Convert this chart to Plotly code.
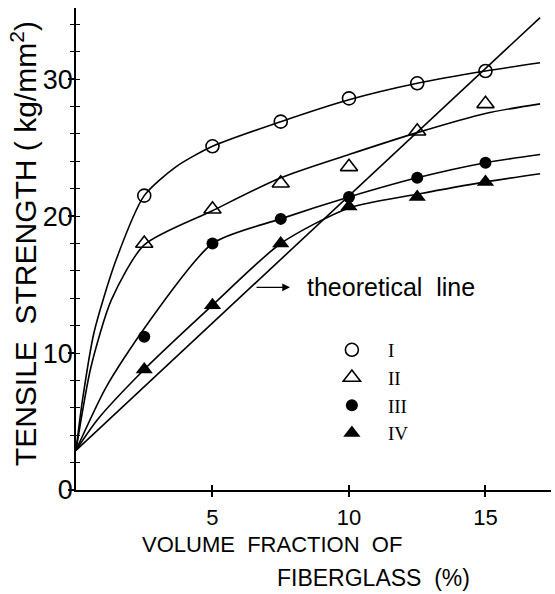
import plotly.graph_objects as go

# ---- data ----
vf = [2.5, 5, 7.5, 10, 12.5, 15]          # volume fraction of fiberglass (%)
s_I = [21.5, 25.1, 26.9, 28.6, 29.7, 30.6]
s_II = [18.0, 20.5, 22.4, 23.6, 26.2, 28.2]
s_III = [11.2, 18.0, 19.8, 21.4, 22.8, 23.9]
s_IV = [8.8, 13.5, 18.0, 20.7, 21.4, 22.5]

# fitted curves
cI_x = [0, 0.24, 0.66, 1.45, 2.5, 3.66, 5, 7.5, 10, 12.5, 15, 17]
cI_y = [2.9, 6.6, 11.5, 16.7, 21.5, 23.6, 25.1, 26.9, 28.5, 29.7, 30.6, 31.2]
cII_x = [0, 0.55, 1.3, 2.5, 5, 7.5, 10, 12.5, 15, 17]
cII_y = [2.9, 9.0, 13.9, 17.9, 20.4, 22.8, 24.5, 26.1, 27.5, 28.2]
cIII_x = [0, 1.1, 2.5, 5, 7.5, 10, 12.5, 15, 17]
cIII_y = [2.9, 7.5, 11.8, 18.0, 19.8, 21.4, 22.8, 23.9, 24.5]
cIV_x = [0, 0.77, 2.5, 5, 7.5, 10, 12.5, 15, 17]
cIV_y = [2.9, 5.1, 8.8, 13.5, 18.0, 20.6, 21.6, 22.5, 23.1]
theo_x = [0, 17]
theo_y = [2.9, 34.5]

x_ticks = [5, 10, 15]
y_ticks = [0, 10, 20, 30]
legend_names = ["I", "II", "III", "IV"]

SANS = "Liberation Sans, Arial, sans-serif"
SERIF = "Liberation Serif, DejaVu Serif, serif"

fig = go.Figure()
for cx, cy in [(cI_x, cI_y), (cII_x, cII_y), (cIII_x, cIII_y), (cIV_x, cIV_y)]:
    fig.add_trace(go.Scatter(x=cx, y=cy, mode="lines",
                             line=dict(color="black", width=1.6, shape="spline", smoothing=0.7),
                             showlegend=False, hoverinfo="skip"))
fig.add_trace(go.Scatter(x=theo_x, y=theo_y, mode="lines", line=dict(color="black", width=1.6),
                         showlegend=False, hoverinfo="skip"))

markers = [
    (s_I, dict(symbol="circle-open", size=13, color="black", line=dict(width=1.6))),
    (s_II, dict(symbol="triangle-up-open", size=15, color="black", line=dict(width=1.6))),
    (s_III, dict(symbol="circle", size=12, color="black")),
    (s_IV, dict(symbol="triangle-up", size=15, color="black")),
]
for name, (ys, mk) in zip(legend_names, markers):
    fig.add_trace(go.Scatter(x=vf, y=ys, mode="markers", marker=mk, name=name))

fig.update_layout(
    width=555, height=594,
    margin=dict(l=76, r=4, t=8, b=104),
    paper_bgcolor="white", plot_bgcolor="white",
    showlegend=True,
    legend=dict(x=0.505, y=0.33, xanchor="left", yanchor="top",
                font=dict(family=SERIF, size=19, color="black"),
                itemwidth=62, bgcolor="rgba(0,0,0,0)", tracegroupgap=0),
    xaxis=dict(range=[0, 17.4], showgrid=False, zeroline=False, showline=True, linecolor="black", linewidth=1.5,
               tickvals=x_ticks, ticktext=[str(v) for v in x_ticks], ticks="outside", ticklen=5, tickwidth=1.5,
               tickcolor="black", tickfont=dict(family=SANS, size=22, color="black"), ticklabelstandoff=2),
    yaxis=dict(range=[0, 35.2], showgrid=False, zeroline=False, showline=True, linecolor="black", linewidth=1.5,
               tickvals=y_ticks, ticktext=[str(v) for v in y_ticks], ticks="outside", ticklen=6, tickwidth=1.5,
               tickcolor="black", tickfont=dict(family=SANS, size=27, color="black"), ticklabelstandoff=-10,
               minor=dict(dtick=2, ticks="outside", ticklen=4, tickcolor="black", tickwidth=1.2)),
    yaxis2=dict(range=[0, 35.2], overlaying="y", side="left", showgrid=False, zeroline=False, showline=False,
                showticklabels=False, ticks="inside", ticklen=4, tickwidth=1.2, tickcolor="black", dtick=2, tick0=0),
    xaxis2=dict(range=[0, 17.4], overlaying="x", side="bottom", showgrid=False, zeroline=False, showline=False,
                showticklabels=False, ticks="inside", ticklen=5, tickwidth=1.5, tickcolor="black", tickvals=x_ticks),
)
# invisible trace so the overlay tick axes render
fig.add_trace(go.Scatter(x=[0], y=[0], xaxis="x2", yaxis="y2", mode="markers", marker=dict(opacity=0),
                         showlegend=False, hoverinfo="skip"))

fig.add_annotation(x=(24 - 76) / 475, y=0.51, xref="paper", yref="paper", xanchor="center", yanchor="middle",
                   text="TENSILE  STRENGTH ( kg/mm<sup>2</sup>)", textangle=-90, showarrow=False,
                   font=dict(family=SANS, size=30, color="black"))
fig.add_annotation(x=(272 - 76) / 475, y=(490 - 544) / 482, xref="paper", yref="paper", xanchor="center",
                   yanchor="middle", text="VOLUME  FRACTION  OF", showarrow=False,
                   font=dict(family=SANS, size=22, color="black"))
fig.add_annotation(x=(373 - 76) / 475, y=(490 - 578) / 482, xref="paper", yref="paper", xanchor="center",
                   yanchor="middle", text="FIBERGLASS  (%)", showarrow=False,
                   font=dict(family=SANS, size=23, color="black"))
fig.add_annotation(x=7.84, y=14.8, ax=6.56, ay=14.8, axref="x", ayref="y", text="", showarrow=True,
                   arrowhead=2, arrowsize=1.2, arrowwidth=1.3, arrowcolor="black")
fig.add_annotation(x=8.4, y=14.8, text="theoretical  line", showarrow=False, xanchor="left", yanchor="middle",
                   font=dict(family=SANS, size=25, color="black"))

fig.write_html("out.html")
